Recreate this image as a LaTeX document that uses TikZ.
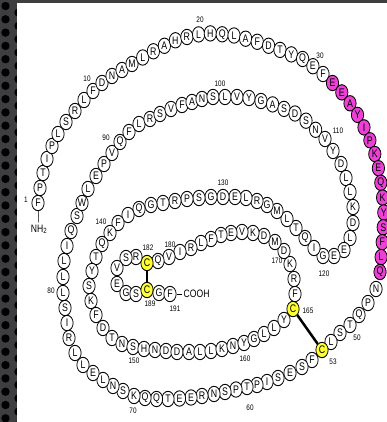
\documentclass[tikz,border=0pt]{standalone}
\usepackage{fontspec}
\setmainfont{Liberation Sans}

\definecolor{helixpink}{RGB}{236,64,214}
\definecolor{cysyellow}{RGB}{255,255,51}
\definecolor{framegray}{RGB}{62,62,64}

% a run of residues: first number, extra style, letter/x/y list
\newcommand\residues[3]{%
  \foreach \aa/\xx/\yy [count=\ii] in {#3} {%
    \pgfmathtruncatemacro\rn{#1+\ii-1}%
    \node[res, #2, res\aa/.try] (r\rn) at (\xx,\yy) {\aa};
  }%
}

\begin{document}
\begin{tikzpicture}[x=1pt, y=-1pt,
  res/.style={circle, draw, line width=0.75pt, fill=white, inner sep=0pt,
    minimum size=12.3pt, font=\fontsize{8.8}{9}\selectfont},
  resC/.style={fill=cysyellow},
  helix/.style={fill=helixpink},
  num/.style={font=\fontsize{6.4}{6.4}\selectfont, inner sep=0pt},
  term/.style={font=\fontsize{8.6}{9}\selectfont, inner sep=1.5pt},
  ssbond/.style={line width=2.3pt},
]
\useasboundingbox (0,0) rectangle (387,422);

% dark frame on the left and top
\fill[framegray] (0,0) rectangle (387,422);
\foreach \yy in {0,...,32} {
  \fill[black] (5.5,6+13.3*\yy) circle (4.2);
  \fill[black] (18.5,12.6+13.3*\yy) circle (4.2);
}
\fill[white] (17,3) rectangle (387,422);

\begin{scope}[y=-0.8pt, transform canvas={yscale=1.25}]
  \residues{1}{}{F/38/203, P/40/188, T/43/173, I/47/159, P/52/146, L/58/134,
    S/66/122, R/75/111, L/84/100, F/93/91, D/102/83, N/112/76, A/122/70,
    M/132/64, L/142.7/57.5, R/153.4/51.3, A/164.4/45.8, H/175.4/40.3,
    R/186.9/37, L/198.6/34.4, H/210.3/33.4, Q/222.2/34.3, L/234/35.5,
    A/245.6/38.7, F/257.2/41.8, D/268.6/45.8, T/280/49.9, Y/291.3/54.4,
    Q/302.6/59, E/312.9/66.2, F/323/74}
  \residues{32}{helix}{E/332.5/83, E/341.8/92.4, A/350/103.3, Y/357.5/114.9,
    I/364/127.4, P/369.9/140.3, K/374.8/154, E/378.4/168.2, Q/380.8/182.8,
    K/382.6/197.6, Y/383.8/212.5, S/383.2/227.3, F/382.2/242.2, L/381.1/257.1,
    Q/380/272}
  \residues{47}{}{N/376/289, P/368/303, Q/359/315, T/350/325, S/340/333,
    L/331/342, C/322/350, F/312/360, S/302/367, E/290/373, S/278/378,
    I/267/382, P/257/385, T/247/387, P/236/389.5, S/225/392, N/214/394,
    R/202/396, E/191/397.5, E/179.5/398.5, T/168/399, Q/156.5/399,
    Q/145/398, K/134/396, S/123/391, N/113/386, L/103/380, E/93/373,
    L/83/365, L/75/353, R/69/338, I/67/323, S/65/308, L/63/293}
  \residues{81}{}{L/63/277, L/64/261, I/67/246, Q/71/231, S/77/216, W/82/203,
    L/88/189, E/96/176, P/104/164, V/112/153, Q/120/142, F/129/132,
    L/139/124, R/150/119, S/160/114, V/171/109, F/182/105, A/192/102,
    N/202/99, S/213/97, L/225/97, V/237/97, Y/249/98, G/261/101,
    A/272.6/104.4, S/284/108.9, D/295/113.5, S/306/120.7, N/315.6/129.8,
    V/325/139}
  \residues{111}{}{Y/333/151, D/341/164, L/346/178, L/350/192, K/353/207,
    D/353/223, L/350/238, E/344/250, E/334/256, G/323/256}
  \residues{121}{}{I/314/248, Q/305/238, T/296/228, L/287/219, M/277/211,
    G/267/205, R/257/201, L/246/198, E/235/197, D/223/197, G/211/197,
    S/199/198, P/187/199, R/175/201, T/163/203, G/151/205, Q/139/209,
    I/128/215, F/118/223, K/110/233}
  \residues{141}{}{Q/102/244, T/96/257, Y/92/271, S/89/286, K/91/301,
    F/96/315, D/103/328, T/112/338, N/122/344, S/133/347, H/144/349,
    N/155/350, D/166/351, D/177/352, A/189/352, L/200/352, L/211/351,
    K/222/349, N/233/346, Y/244/343, G/254/339, L/264/334, L/274/328,
    Y/284/320, C/293/309}
  \residues{166}{}{F/295/294, R/294/279, K/290/264, D/284/251, M/275/242,
    D/264/236, K/253/233, V/242/232, E/231/233, T/221/235, F/211/239,
    L/201/243, R/191/248, I/180/252, V/169/257, Q/158/261, C/147/263}
  \residues{183}{}{R/136/257, S/126/258, V/117/268, E/117/284, G/126/293,
    S/136/294, C/147/290, G/159/293, F/170/294}

  % disulfide bridges
  \draw[ssbond] (r53) -- (r165);
  \draw[ssbond] (r182) -- (r189);

  % termini
  \node[term] (nh2) at (39,229) {NH\textsubscript{2}};
  \draw[line width=0.5pt] (r1) -- (nh2);
  \node[term, anchor=west] (cooh) at (182,294) {COOH};
  \draw[line width=0.5pt] (r191) -- (cooh);

  % residue numbers
  \node[num] (n1) at (26,200) {1};
  \node[num] (n10) at (87,79) {10};
  \node[num] (n20) at (200,20) {20};
  \node[num] (n30) at (320,56) {30};
  \node[num] (n50) at (357,338) {50};
  \node[num] (n53) at (333,362) {53};
  \node[num] (n60) at (250,408) {60};
  \node[num] (n70) at (133,411) {70};
  \node[num] (n80) at (51,291) {80};
  \node[num] (n90) at (106,138) {90};
  \node[num] (n100) at (220,84) {100};
  \node[num] (n110) at (338,131) {110};
  \node[num] (n120) at (324,274) {120};
  \node[num] (n130) at (223,183) {130};
  \node[num] (n140) at (101,222) {140};
  \node[num] (n150) at (134,361) {150};
  \node[num] (n160) at (245,359) {160};
  \node[num] (n165) at (308,311) {165};
  \node[num] (n170) at (277,261) {170};
  \node[num] (n180) at (170,245) {180};
  \node[num] (n182) at (148,248) {182};
  \node[num] (n189) at (150,304) {189};
  \node[num] (n191) at (175,309) {191};
\end{scope}
\end{tikzpicture}
\end{document}
